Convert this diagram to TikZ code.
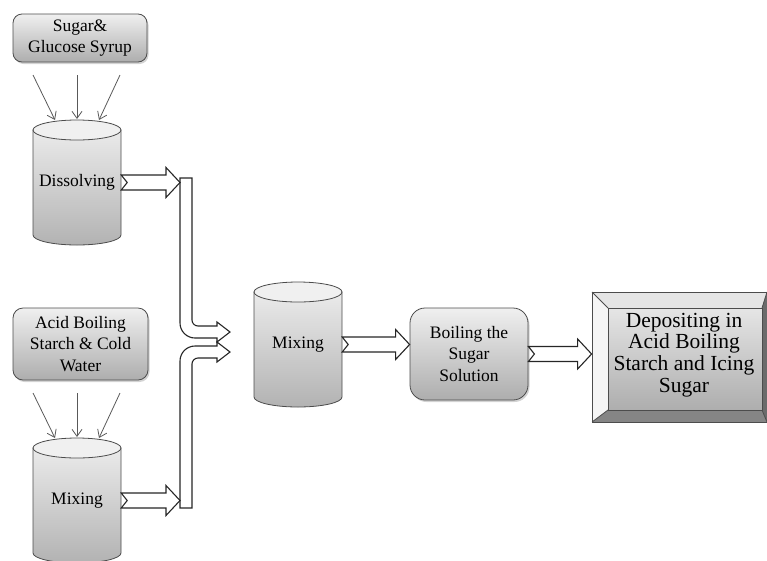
\documentclass[tikz,border=0pt]{standalone}
\usepackage{fontspec}
\setmainfont{Liberation Serif}
\usetikzlibrary{arrows.meta,calc,shadows}
\tikzset{
  x=1pt, y=1pt,
  box/.style={rounded corners=9pt, draw=black!70, line width=0.8pt, top color=black!6, bottom color=black!32,
    drop shadow={opacity=0.35, shadow xshift=1.5pt, shadow yshift=-2pt}, align=center,
    font=\fontsize{17.5}{21.5}\selectfont, text=black, inner sep=0pt},
  feedarrow/.style={draw=black!65, line width=0.8pt, -{Straight Barb[length=7pt,width=10pt]}},
  blk/.style={draw=black!85, fill=white, line width=1.1pt, line join=miter},
  pipeline/.style={draw=black!85, fill=white, line width=1.1pt},
  drumlbl/.style={minimum width=88pt, minimum height=105pt, inner sep=0pt, text=black,
    font=\fontsize{17.5}{21.5}\selectfont},
  drumbody/.style={top color=black!8, bottom color=black!30, draw=black!70, line width=0.8pt},
  drumtop/.style={fill=black!6, draw=black!70, line width=0.8pt},
  bevel/.style={draw=black!70, line width=0.8pt},
}
\newcommand\drum[4]{% name, cx, top-centre y, text
  \shadedraw[drumbody] (#2-44,-#3) -- (#2-44,-#3-105)
     arc[start angle=180, end angle=360, x radius=44, y radius=10] -- (#2+44,-#3) -- cycle;
  \filldraw[drumtop] (#2,-#3) ellipse[x radius=44, y radius=10];
  \node[drumlbl] (#1) at (#2,-#3-52.5) {#4};
}
\newcommand\blkarrow[2]{%
  \draw[blk] let \p1=(#1), \p2=(#2) in
    (\x1,\y1+7.5pt) -- (\x2-14pt,\y1+7.5pt) -- (\x2-14pt,\y1+15pt) -- (\x2,\y1)
    -- (\x2-14pt,\y1-15pt) -- (\x2-14pt,\y1-7.5pt) -- (\x1,\y1-7.5pt) -- (\x1+6pt,\y1) -- cycle;
}
\begin{document}
\begin{tikzpicture}
\useasboundingbox (0,0) rectangle (767,-560);

% input boxes
\node[box, minimum width=134pt, minimum height=48pt] (sugar) at (80,-38) {Sugar\&\\Glucose Syrup};
\node[box, rounded corners=10pt, minimum width=135pt, minimum height=72pt] (acid) at (80.5,-344) {Acid Boiling\\Starch \& Cold\\Water};

% drums
\drum{diss}{77}{130}{Dissolving}
\drum{mixa}{77}{448}{Mixing}
\drum{mixb}{298}{292}{Mixing}

% feed arrows
\coordinate (fa1) at (33,-75);  \coordinate (ta1) at (55,-120);
\coordinate (fa2) at (77,-75);  \coordinate (ta2) at (77,-119);
\coordinate (fa3) at (120,-75); \coordinate (ta3) at (99,-120);
\draw[feedarrow] (fa1) -- (ta1);
\draw[feedarrow] (fa2) -- (ta2);
\draw[feedarrow] (fa3) -- (ta3);
\coordinate (fb1) at (33,-393);  \coordinate (tb1) at (55,-438);
\coordinate (fb2) at (77,-393);  \coordinate (tb2) at (77,-437);
\coordinate (fb3) at (120,-393); \coordinate (tb3) at (99,-438);
\draw[feedarrow] (fb1) -- (tb1);
\draw[feedarrow] (fb2) -- (tb2);
\draw[feedarrow] (fb3) -- (tb3);

% pipes
\draw[pipeline] (180,-178) -- (192,-178) -- (192,-320)
  arc[start angle=180, end angle=270, radius=6] -- (217,-326) -- (217,-322) -- (230,-332)
  -- (217,-342) -- (217,-338) -- (195,-338)
  arc[start angle=270, end angle=180, radius=15] -- cycle;
\draw[pipeline] (180,-508) -- (180,-361)
  arc[start angle=180, end angle=90, radius=15] -- (217,-346) -- (217,-342) -- (230,-352)
  -- (217,-362) -- (217,-358) -- (198,-358)
  arc[start angle=90, end angle=180, radius=6] -- (192,-508) -- cycle;
\coordinate (pipeA) at (180,-185);
\coordinate (pipeB) at (180,-502);

\blkarrow{diss.east}{pipeA}
\blkarrow{mixa.east}{pipeB}

% boiling
\node[box, rounded corners=15pt, minimum width=118pt, minimum height=92pt] (boil) at (469,-354) {Boiling the\\Sugar\\Solution};

% depositing (bevelled box)
\fill[black!10] (592,-292) -- (767,-292) -- (762,-308) -- (608,-308) -- cycle;
\fill[black!4] (592,-292) -- (608,-308) -- (608,-410) -- (592,-422) -- cycle;
\fill[black!48] (592,-422) -- (608,-410) -- (762,-410) -- (767,-422) -- cycle;
\fill[black!58] (767,-292) -- (762,-308) -- (762,-410) -- (767,-422) -- cycle;
\shadedraw[top color=black!10, bottom color=black!32, bevel] (608,-308) rectangle (762,-410);
\draw[bevel] (592,-292) -- (608,-308) (767,-292) -- (762,-308) (592,-422) -- (608,-410) (767,-422) -- (762,-410);
\node[draw=black!70, line width=0.8pt, minimum width=175pt, minimum height=130pt, inner sep=0pt] (dep) at (679.5,-357) {};
\node[align=center, font=\fontsize{21.5}{21.7}\selectfont, text=black, inner sep=0pt] (deptxt) at (684,-355)
  {Depositing in\\Acid Boiling\\Starch and Icing\\Sugar};

\blkarrow{mixb.east}{boil.west}
\blkarrow{boil.east}{dep.west}
\end{tikzpicture}
\end{document}
